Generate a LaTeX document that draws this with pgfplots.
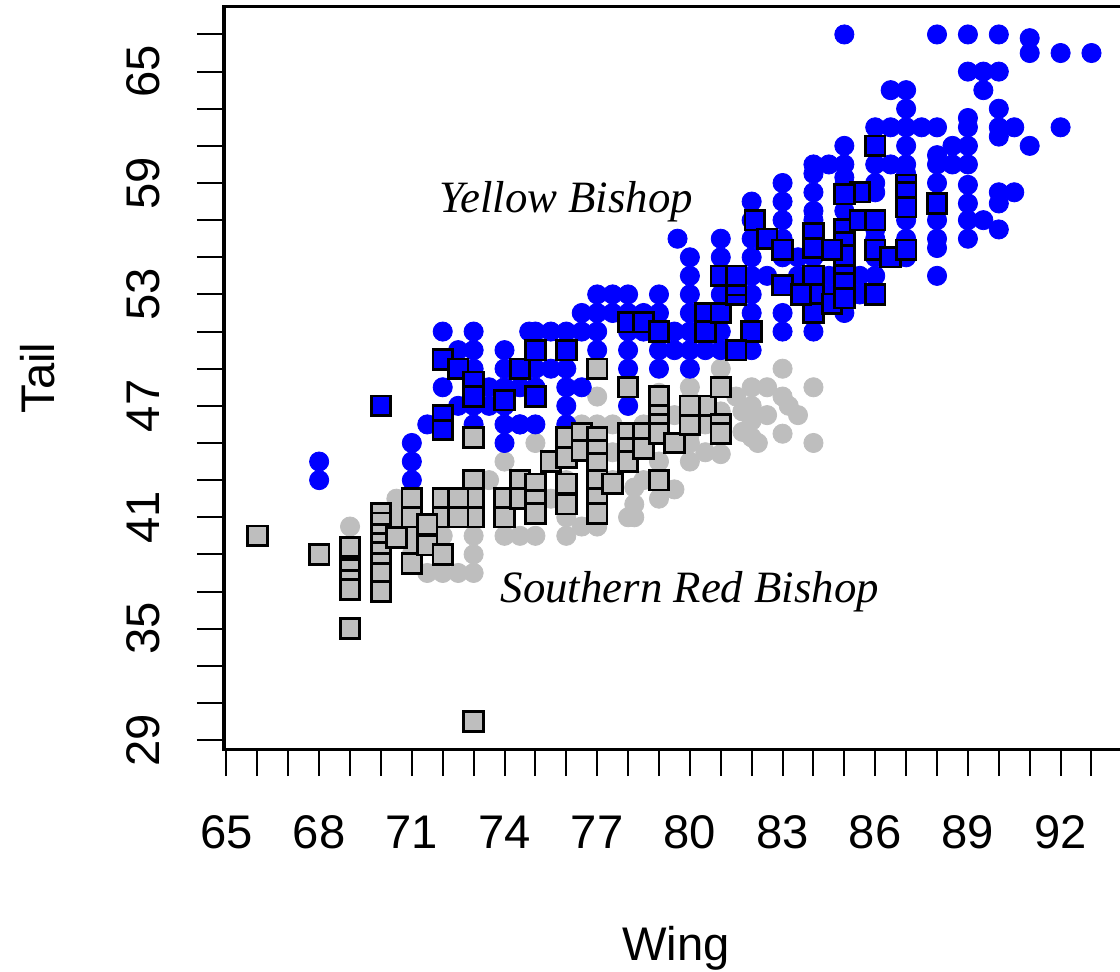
\documentclass[border=0pt]{standalone}
\usepackage{fontspec}
\setmainfont{Liberation Sans}
\newfontfamily\annfont{Liberation Serif}
\usepackage{pgfplots}
\pgfplotsset{compat=1.18}
\definecolor{rgray}{HTML}{BEBEBE}

\begin{document}
\begin{tikzpicture}
\begin{axis}[
    at={(0,0)}, anchor=south west,
    width=225.75pt, height=185.5pt, scale only axis,
    xmin=64.92, xmax=94.15, ymin=28.52, ymax=68.48,
    axis line style={line width=0.75pt},
    tick align=outside,
    xtick pos=left, ytick pos=left,
    xtick={65,68,...,92},
    minor xtick={66,67,69,70,72,73,75,76,78,79,81,82,84,85,87,88,90,91,93},
    ytick={29,35,...,65},
    minor ytick={31,33,37,39,43,45,49,51,55,57,61,63,67},
    major tick length=6.75pt, minor tick length=6.75pt,
    every tick/.style={black, line width=0.5pt},
    /pgf/number format/assume math mode=true,
    ticklabel style={font=\fontsize{11.8}{14}\selectfont},
    xticklabel style={anchor=base, yshift=-18pt},
    yticklabel style={rotate=90, anchor=base, yshift=9.5pt},
]
% Southern Red Bishop, circles
\addplot[only marks, mark=*, mark size=2.4pt,
    mark options={draw=rgray, fill=rgray, line width=0.2pt}] table {
w t
81 49
83 49
84 48
79 47.7
77 46
77.5 46
82 48
82.5 48
83 47.5
83.2 47
83.5 46.5
82 47
82 46.2
82 45.3
82.2 45
84 45
80 45
80 44
78.2 42.6
78.2 41.7
78.2 41
80 47.3
80 46.4
80 45.5
81 46.7
81 45.6
81 44.4
81.7 46.7
81.7 45.6
74 44
73.5 43
70.5 42
69 40.5
71.5 38
72 38
72.5 38
73 38
74 40
74.5 40
75 40
76 40
77 41
79 43
78.5 43
77.5 43
76 43
75.5 42
72 40
73 40
70.5 41
71 42
78 47
77 47.5
76 45
75 45
76.5 46
79 44
80.5 44.5
78 41
79 42
76 41
74 41
73 39
71 40
70 39
69 38
71 39
80.5 46
81.5 47.5
82.5 46.5
83 45.5
79.5 46.5
78.5 46
77.5 44.5
76.5 40.5
77 40.5
79.5 42.5
80 48
};
% Yellow Bishop, circles
\addplot[only marks, mark=*, mark size=2.4pt,
    mark options={draw=blue, fill=blue, line width=0.2pt}] table {
w t
85 67
88 67
89 67
90 67
91 66.8
91 66
92 66
93 66
89 65
89.5 65
90 65
89.5 64
86.5 64
87 64
87 63
90 63
89 62.5
86 62
86.5 62
87 62
87.5 62
88 62
89 62
90 62
90.5 62
90 61.5
92 62
91 61
86 61
87 61
88.5 61
89 61
84 60
84.5 60
85 60
86 60
86.5 60
87 60
88 60.5
88 60
88.5 60
89 60
85 59.3
84 58.5
85 58.9
86 58.5
87 59.5
88 59
89 58.9
89 57.9
90 58.5
90.5 58.5
90 57.9
90 56.5
89 57
89.5 57
88 57
87 57
86 57
83 59
83 58
82 58
84 57.5
85 57.5
86 56.5
87 56
88 55.5
88 54
84 57
82 56
83 56
83 55
84 55
84 54
85 55
85 54
86 54
86 55
81 55
82 55
82 54
82.5 54
80 55
80 54
80 53
80 52
79.6 56
83 52
83 51
84 52
79 52
79 51
79 50
80 49
80.5 50
77 53
77.5 53
77 52
77.5 52
78 52
81 52
81 51
80 51
75 51
75.5 51
76 51
76.5 51
77 51
78 51
78.5 51
79.5 51
80.5 51
75 50
76 50
77 50
78 50
81 50
81.5 50
79 49
78 49
74.5 49
75 49
75.5 49
76 49
75 48
76 48
76.5 48
76 47
76 46
74.5 46
75 46
78 47
72 51
73 50
74 50
72.5 49
73 49
74 49
73.5 48
74 48
74.5 48
73 47
73.5 47
74 47
71.5 46
72 46
74 46
74.5 46
74 45
71 45
71 44
71 43
68 44
68 43
74.8 51
70 47
83 57
84 56
83.5 55
83.5 54
84.5 54
84.5 53
85.5 54
85.5 53
82 53
82 52
81 53
79 53
78 53
78.5 52
76.5 52
73 51
72.5 50
72 48
72.5 47
73 46
77 49
79.5 50
80 50
82 50
84 51
85 52
86 56
87 55
88 56
89 56
88 58
87 58
86 59
85 61
84 59.5
82 57
81 56
};
% Yellow Bishop, squares
\addplot[only marks, mark=square*, mark size=2.45pt,
    mark options={draw=black, fill=blue, line width=0.7pt}] table {
w t
70 47
72 49.5
72.5 49
73 48.3
73 47.5
72 46.5
72 45.7
74.5 49
74 47.3
75 50
76 50
75 47.5
78 51.5
78.5 51.5
79 51
80.5 52
80.5 51
81 52
82 51
81.5 53
81.5 53.5
83 53.5
81.5 50
81 54
81.5 54
84 54
84 53
84 52
84.6 52.5
85 54.3
85 53.6
85 52.8
86 53
83.6 53
82.1 57
82.5 56
83 55.4
84 56.3
84 55.5
85 56.5
85 55.8
85 55.1
85.5 57
86 57
86 55.4
86.5 55
87 55.4
84.6 55.4
85.5 58.5
87 58.9
87 58.5
87 57.7
88 57.9
86 61
85 58.4
};
% Southern Red Bishop, squares
\addplot[only marks, mark=square*, mark size=2.45pt,
    mark options={draw=black, fill=rgray, line width=0.7pt}] table {
w t
66 40
68 39
69 39.4
69 38.2
69 37.6
69 37.1
69 35
70 41.2
70 40.7
70 40.1
70 39.6
70 39.1
70 38.5
70 38
70 37
70.5 39.9
71 38.5
71.5 40.4
71.5 39.5
72 39
71 41.3
73 30
73 45.3
73 43
73 42
73 41
71 42
71 41
72 42
72 41
72.5 42
72.5 41
74 42
74 41
74.5 43
74.5 42
71.5 40.6
75 42.8
75 41.9
75 41.2
75.5 44
76 45.3
76 44.2
76 42.8
76 41.7
76.5 45.5
76.5 44.6
77 45.3
77 44.6
77 43.9
77 43
77 42
77 41.2
77.5 42.8
78 45.5
78 44.7
78 44
78.5 45.5
78.5 44.7
79 47.5
79 46.5
79 46
79 45.5
79 43
79.5 45
80 46
80.5 47
81 46
81 45.5
81 48
78 48
77 49
80 47
};
\node[font=\annfont\itshape\fontsize{11.2}{13}\selectfont] at (axis cs:76,58) {Yellow Bishop};
\node[font=\annfont\itshape\fontsize{11.2}{13}\selectfont] at (axis cs:80,37) {Southern Red Bishop};
\end{axis}
\node[rotate=90, anchor=base, font=\fontsize{11.8}{14}\selectfont] at (-42.25pt,92.75pt) {Tail};
\node[anchor=base, font=\fontsize{11.8}{14}\selectfont] at (113pt,-52.75pt) {Wing};
\pgfresetboundingbox
\path[use as bounding box] (-56pt,-55.5pt) rectangle (224pt,187.25pt);
\end{tikzpicture}
\end{document}
